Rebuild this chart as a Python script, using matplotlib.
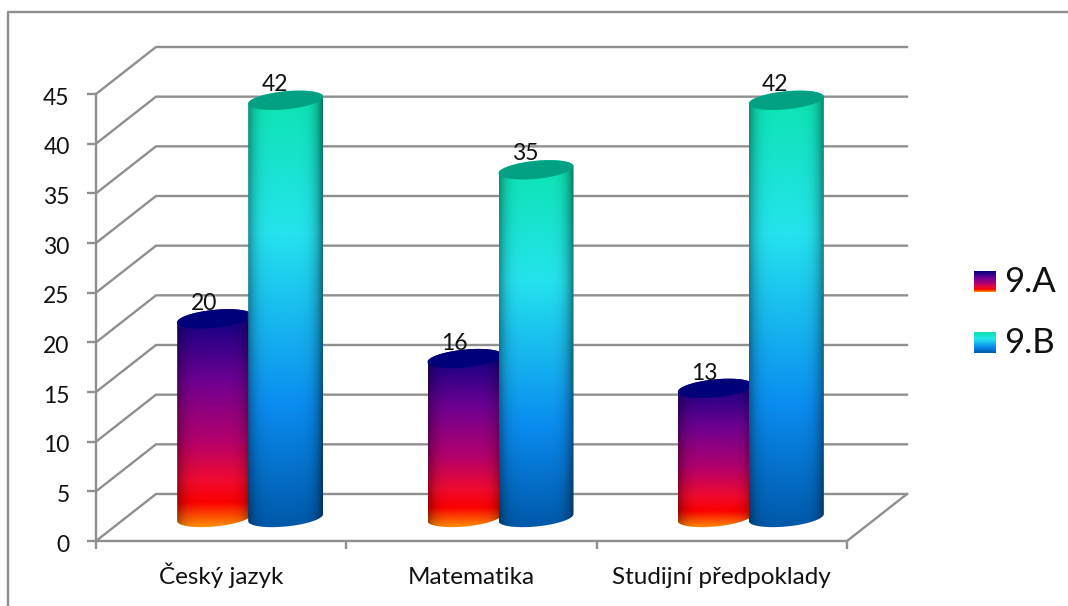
import numpy as np
import matplotlib
matplotlib.use('Agg')
import matplotlib.pyplot as plt
from matplotlib.colors import LinearSegmentedColormap
from matplotlib.patches import PathPatch, Polygon
from matplotlib.path import Path
from matplotlib.transforms import ScaledTranslation

categories = ['Český jazyk', 'Matematika', 'Studijní předpoklady']
series_names = ['9.A', '9.B']
values_a = [20, 16, 13]
values_b = [42, 35, 42]
y_ticks = [0, 5, 10, 15, 20, 25, 30, 35, 40, 45]

plt.rcParams['font.family'] = ['Lato', 'DejaVu Sans']

W, H = 1068, 606
GREY = '#8f8f8f'
fig = plt.figure(figsize=(W / 100, H / 100), dpi=100)
ax = fig.add_axes([96 / W, (H - 541) / H, (847 - 96) / W, (541 - 94) / H])
ax.set_xlim(0, 3)
ax.set_ylim(0, 45)

# 3d depth in data units
px_x = 3 / (847 - 96)
px_y = 45 / (541 - 94)
dep_x = 60 * px_x
dep_y = 47 * px_y

for v in y_ticks:
    ax.plot([0, dep_x, 3 + dep_x], [v, v + dep_y, v + dep_y], color=GREY, lw=1.7,
            clip_on=False, zorder=1, solid_joinstyle='miter')
ax.plot([3, 3 + dep_x], [0, dep_y], color=GREY, lw=1.7, clip_on=False, zorder=1)

cmap_a = LinearSegmentedColormap.from_list('a', [(0, '#00007e'), (0.33, '#6d0092'), (0.6, '#b4006c'),
                                                  (0.78, '#f00a30'), (0.88, '#fb0000'), (1, '#ff9c00')])
cmap_b = LinearSegmentedColormap.from_list('b', [(0, '#0be4ae'), (0.33, '#25e3ee'), (0.72, '#0a8cf0'),
                                                  (1, '#0057a8')])


def cylinder(cx, base, height, cmap, cap, z):
    a = 37.5 * px_x
    b = 9 * px_y
    tilt = 3.5 * px_y
    t = np.linspace(0, np.pi, 60)
    top = base + height
    # lower half of the base, then upper half of the top
    xs_low = cx - a * np.cos(t)
    ys_low = base - b * np.sin(t) + tilt * (xs_low - cx) / a
    xs_up = cx + a * np.cos(t)
    ys_up = top + b * np.sin(t) + tilt * (xs_up - cx) / a
    body = np.column_stack([np.r_[xs_low, xs_up], np.r_[ys_low, ys_up]])

    u = np.linspace(-1, 1, 200)
    shade = 1 - np.where(u < 0, 0.38, 0.5) * np.abs(u) ** 5
    grad = cmap(np.linspace(0, 1, 300))[:, :3]
    img = grad[:, None, :] * shade[None, :, None]
    im = ax.imshow(img, extent=[cx - a, cx + a, base - b - tilt, top + b + tilt], aspect='auto',
                   origin='upper', zorder=z, interpolation='bilinear')
    im.set_clip_box(fig.bbox)
    im.set_clip_path(PathPatch(Path(np.vstack([body, body[:1]])), transform=ax.transData))

    t2 = np.linspace(0, 2 * np.pi, 120)
    xs = cx + a * np.cos(t2)
    ys = top + b * np.sin(t2) + tilt * (xs - cx) / a
    ax.add_patch(Polygon(np.column_stack([xs, ys]), closed=True, facecolor=cap, edgecolor='none',
                         zorder=z + 0.1, clip_on=False))


for i in range(len(categories)):
    mid = i + 0.5 + dep_x / 2 - 1 * px_x
    cyl_base = dep_y / 2
    xa = mid - 35.5 * px_x
    xb = mid + 35.5 * px_x
    cylinder(xa, cyl_base, values_a[i], cmap_a, '#000078', 3 + i)
    cylinder(xb, cyl_base, values_b[i], cmap_b, '#03a184', 4 + i)
    ax.annotate(str(values_a[i]), (xa, cyl_base + values_a[i]), xytext=(-11, 15), textcoords='offset pixels',
                ha='center', va='center', fontsize=16.5, color='#111111', zorder=9)
    ax.annotate(str(values_b[i]), (xb, cyl_base + values_b[i]), xytext=(-11, 16), textcoords='offset pixels',
                ha='center', va='center', fontsize=16.5, color='#111111', zorder=9)

ax.set_xlim(0, 3)
ax.set_ylim(0, 45)
ax.patch.set_visible(False)
for s in ['top', 'right']:
    ax.spines[s].set_visible(False)
for s in ['left', 'bottom']:
    ax.spines[s].set_color(GREY)
    ax.spines[s].set_linewidth(1.7)
ax.set_yticks(y_ticks)
ax.set_xticks([0, 1, 2, 3])
ax.set_xticklabels([])
ax.set_xticks([0.5, 1.5, 2.5], categories, minor=True)
ax.tick_params(axis='y', length=6.5, width=1.7, color=GREY, labelsize=16.5, pad=12.5, labelcolor='#111111')
ax.tick_params(axis='x', which='major', length=6, width=1.7, color=GREY)
ax.tick_params(axis='x', which='minor', length=0, labelsize=17.5, pad=31, labelcolor='#111111')
for lab in ax.get_xticklabels(minor=True):
    lab.set_va('baseline')
# digits sit a little high in Lato
nudge = ScaledTranslation(0, -1.5 / 72, fig.dpi_scale_trans)
for lab in ax.get_yticklabels():
    lab.set_transform(lab.get_transform() + nudge)

# legend
key_a = plt.get_cmap(cmap_a)(np.linspace(0, 1, 64))[:, None, :3]
key_b = plt.get_cmap(cmap_b)(np.linspace(0, 1, 64))[:, None, :3]
for name, key, ytop in zip(series_names, [key_a, key_b], [271, 332]):
    kax = fig.add_axes([974 / W, (H - ytop - 21) / H, 22 / W, 21 / H])
    kax.imshow(key, aspect='auto', interpolation='bilinear')
    kax.axis('off')
    fig.text(1004 / W, (H - ytop - 11) / H, name, fontsize=25, va='center', ha='left', color='#111111')

# chart frame, only left and top show in the crop
fig.add_artist(plt.Line2D([8 / W, 8 / W, 1], [0, (H - 12) / H, (H - 12) / H], color=GREY, lw=1.7))

fig.savefig('out.png', dpi=100)
